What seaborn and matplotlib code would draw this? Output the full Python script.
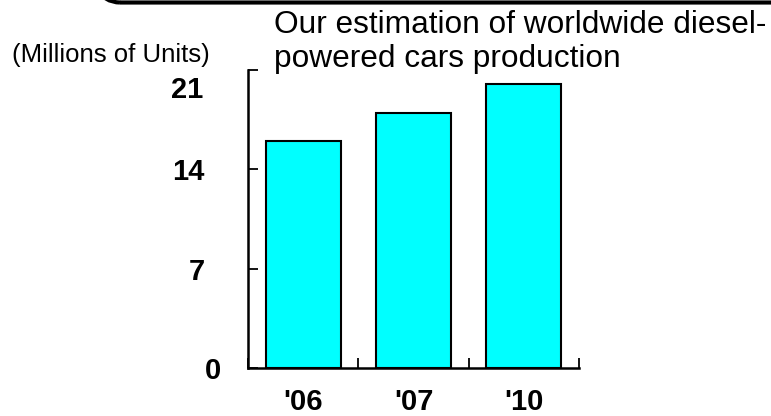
import matplotlib
matplotlib.use("Agg")
import matplotlib.pyplot as plt
import matplotlib.patches as mpatches
import matplotlib.transforms as mtransforms
import seaborn as sns
import pandas as pd

# Worldwide diesel-powered car production estimate (millions of units)
years = ["'06", "'07", "'10"]
production = [16, 18, 20]
y_ticks = [0, 7, 14, 21]

sns.set_style("white")
plt.rcParams["font.family"] = ["Liberation Sans", "DejaVu Sans"]
plt.rcParams["text.color"] = "black"

W, H, DPI = 771, 416, 100
fig = plt.figure(figsize=(W / DPI, H / DPI), dpi=DPI)
ax = fig.add_axes([248 / W, (H - 368) / H, (579 - 248) / W, (368 - 70) / H])

df = pd.DataFrame({"year": years, "production": production})
sns.barplot(data=df, x="year", y="production", ax=ax, color="#00FFFF",
            saturation=1, width=0.68, edgecolor="black", linewidth=1.5)

ax.set_xlim(-0.5, 2.5)
ax.set_ylim(0, 21)
ax.set_xlabel("")
ax.set_ylabel("")

for side in ["top", "right"]:
    ax.spines[side].set_visible(False)
for side in ["left", "bottom"]:
    ax.spines[side].set_linewidth(1.8)
    ax.spines[side].set_color("black")

ax.set_yticks(y_ticks)
ax.set_yticklabels([str(v) for v in y_ticks], fontsize=21, fontweight="bold",
                   color="black")
ax.tick_params(axis="y", left=True, direction="in", length=7.5, width=1.3,
               pad=31, colors="black")


def nudge(label, dx_px, dy_px):
    label.set_transform(label.get_transform()
                        + mtransforms.ScaledTranslation(dx_px / DPI, dy_px / DPI,
                                                        fig.dpi_scale_trans))


# the zero label sits a little further right, the top label a little lower
ylabels = ax.get_yticklabels()
nudge(ylabels[0], 16, 0)
nudge(ylabels[-1], -2, -17)

ax.set_xticks(range(len(years)))
ax.set_xticklabels(years, fontsize=21, fontweight="bold", color="black")
ax.tick_params(axis="x", which="major", bottom=False, pad=11, colors="black")
ax.set_xticks([-0.5, 0.5, 1.5, 2.5], minor=True)
ax.tick_params(axis="x", which="minor", bottom=True, direction="in",
               length=7.5, width=1.3, colors="black")

fig.text(12 / W, 1 - 55 / H, "(Millions of Units)", fontsize=18.5,
         ha="left", va="center", color="black")
fig.text(274 / W, 1 - 10 / H,
         "Our estimation of worldwide diesel-\npowered cars production",
         fontsize=22.8, ha="left", va="top", linespacing=1.17, color="black")

# rounded frame edge peeking in at the top
frame = mpatches.FancyBboxPatch(
    (60 / DPI, (H - 2.5) / DPI), 900 / DPI, 3.0,
    boxstyle=mpatches.BoxStyle("Round", pad=0, rounding_size=0.6),
    facecolor="none", edgecolor="black", linewidth=3.0,
    transform=fig.dpi_scale_trans, clip_on=False)
fig.add_artist(frame)

fig.savefig("out.png", dpi=DPI)
